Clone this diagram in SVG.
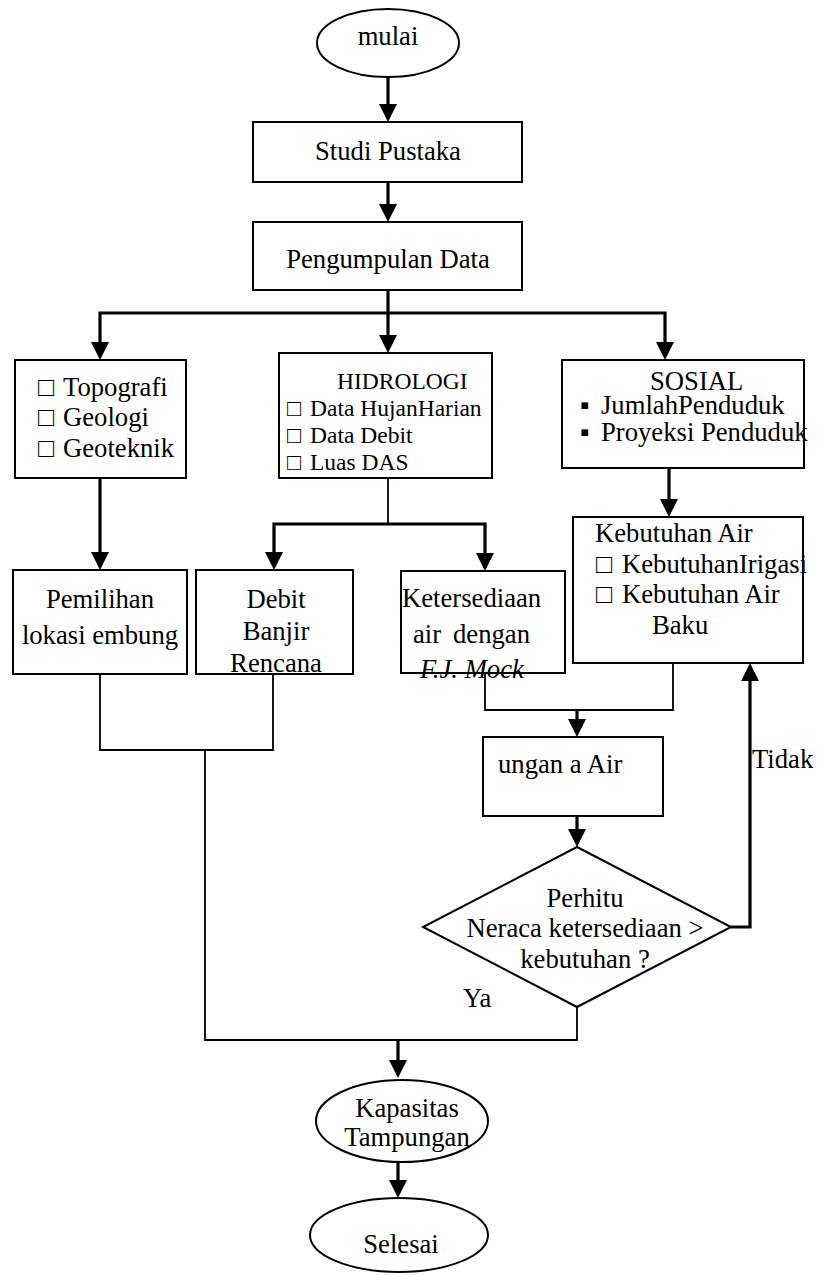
<svg xmlns="http://www.w3.org/2000/svg" width="829" height="1275" viewBox="0 0 829 1275">
<style>
.box{fill:#fff;stroke:#000;stroke-width:2}
.t{font-family:"Liberation Serif","Times New Roman",serif;font-size:26.67px;fill:#000}
.s{font-size:23.5px}
.i{font-style:italic}
.thick{fill:none;stroke:#000;stroke-width:3.2;stroke-linejoin:miter}
.thin{fill:none;stroke:#000;stroke-width:1.8}
.arr{marker-end:url(#ah)}
</style>
<defs>
<marker id="ah" markerUnits="userSpaceOnUse" markerWidth="18" markerHeight="18" refX="9" refY="9" orient="auto">
<path d="M0,0 L18,9 L0,18 z" fill="#000"/>
</marker>
</defs>
<rect width="829" height="1275" fill="#fff"/>

<g id="connectors">
<path class="thick arr" d="M388,77 V113"/>
<path class="thick arr" d="M388,182 V213"/>
<path class="thick arr" d="M388,290 V344"/>
<path class="thick arr" d="M388,313 H100 V351"/>
<path class="thick arr" d="M388,313 H665 V351"/>
<path class="thick arr" d="M100,478 V561"/>
<path class="thin" d="M388,478 V524"/>
<path class="thick arr" d="M388,524 H274 V561"/>
<path class="thick arr" d="M388,524 H485 V562"/>
<path class="thick arr" d="M669,468 V508"/>
<path class="thin" d="M100,674 V750 H273 V674"/>
<path class="thin" d="M205,750 V1040 H577 V1007"/>
<path class="thin" d="M485,673 V710 H673 V663"/>
<path class="thick arr" d="M577,710 V728"/>
<path class="thick arr" d="M577,816 V838"/>
<path class="thick arr" d="M731,927 H750 V672"/>
<path class="thick arr" d="M398,1040 V1069"/>
<path class="thick arr" d="M398,1162 V1189"/>
</g>

<g id="mulai">
<ellipse class="box" cx="388" cy="43" rx="71" ry="34"/>
<text class="t" x="388" y="45" text-anchor="middle">mulai</text>
</g>

<g id="studi-pustaka">
<rect class="box" x="253" y="122" width="269" height="60"/>
<text class="t" x="388" y="160" text-anchor="middle">Studi Pustaka</text>
</g>

<g id="pengumpulan-data">
<rect class="box" x="253" y="222" width="269" height="68"/>
<text class="t" x="388" y="268" text-anchor="middle">Pengumpulan Data</text>
</g>

<g id="topografi">
<rect class="box" x="15" y="360" width="171" height="118"/>
<text class="t"><tspan x="38" y="396">□</tspan><tspan x="63" y="396">Topografi</tspan></text>
<text class="t"><tspan x="38" y="426">□</tspan><tspan x="63" y="426">Geologi</tspan></text>
<text class="t"><tspan x="38" y="457">□</tspan><tspan x="63" y="457">Geoteknik</tspan></text>
</g>

<g id="hidrologi">
<rect class="box" x="279" y="353" width="213" height="125"/>
<text class="t s" x="337" y="389">HIDROLOGI</text>
<text class="t s"><tspan x="287" y="416">□</tspan><tspan x="310" y="416">Data HujanHarian</tspan></text>
<text class="t s"><tspan x="287" y="443">□</tspan><tspan x="310" y="443">Data Debit</tspan></text>
<text class="t s"><tspan x="287" y="470">□</tspan><tspan x="310" y="470">Luas DAS</tspan></text>
</g>

<g id="sosial">
<rect class="box" x="562" y="360" width="242" height="108"/>
<text class="t" x="650" y="390">SOSIAL</text>
<text class="t"><tspan x="580" y="414">▪</tspan><tspan x="601" y="414">JumlahPenduduk</tspan></text>
<text class="t"><tspan x="580" y="441">▪</tspan><tspan x="601" y="441">Proyeksi Penduduk</tspan></text>
</g>

<g id="pemilihan-lokasi">
<rect class="box" x="13" y="570" width="174" height="104"/>
<text class="t" x="100" y="608" text-anchor="middle">Pemilihan</text>
<text class="t" x="100" y="644" text-anchor="middle">lokasi embung</text>
</g>

<g id="debit-banjir">
<rect class="box" x="196" y="570" width="157" height="104"/>
<text class="t" x="276" y="608" text-anchor="middle">Debit</text>
<text class="t" x="276" y="640" text-anchor="middle">Banjir</text>
<text class="t" x="276" y="672" text-anchor="middle">Rencana</text>
</g>

<g id="ketersediaan">
<rect class="box" x="401" y="571" width="164" height="102"/>
<text class="t" x="402" y="607">Ketersediaan</text>
<text class="t"><tspan x="413" y="643">air</tspan><tspan x="453" y="643">dengan</tspan></text>
<text class="t i" x="420" y="678">F.J. Mock</text>
</g>

<g id="kebutuhan-air">
<rect class="box" x="573" y="517" width="230" height="146"/>
<text class="t" x="595" y="542">Kebutuhan Air</text>
<text class="t"><tspan x="596" y="573">□</tspan><tspan x="622" y="573">KebutuhanIrigasi</tspan></text>
<text class="t"><tspan x="596" y="603">□</tspan><tspan x="622" y="603">Kebutuhan Air</tspan></text>
<text class="t" x="652" y="634">Baku</text>
</g>

<g id="neraca-air">
<rect class="box" x="483" y="737" width="180" height="79"/>
<text class="t" x="498" y="773">ungan a Air</text>
</g>

<g id="keputusan">
<polygon class="box" points="577,847 731,927 577,1007 423,927"/>
<text class="t" x="585" y="907" text-anchor="middle">Perhitu</text>
<text class="t" x="585" y="937" text-anchor="middle">Neraca ketersediaan &gt;</text>
<text class="t" x="585" y="968" text-anchor="middle">kebutuhan ?</text>
</g>

<g id="label-tidak">
<text class="t" x="752" y="768">Tidak</text>
</g>
<g id="label-ya">
<text class="t" x="463" y="1007">Ya</text>
</g>

<g id="kapasitas">
<ellipse class="box" cx="402" cy="1121" rx="86" ry="41"/>
<text class="t" x="407" y="1117" text-anchor="middle">Kapasitas</text>
<text class="t" x="407" y="1146" text-anchor="middle">Tampungan</text>
</g>

<g id="selesai">
<ellipse class="box" cx="399" cy="1235" rx="89" ry="37"/>
<text class="t" x="401" y="1253" text-anchor="middle">Selesai</text>
</g>
</svg>
